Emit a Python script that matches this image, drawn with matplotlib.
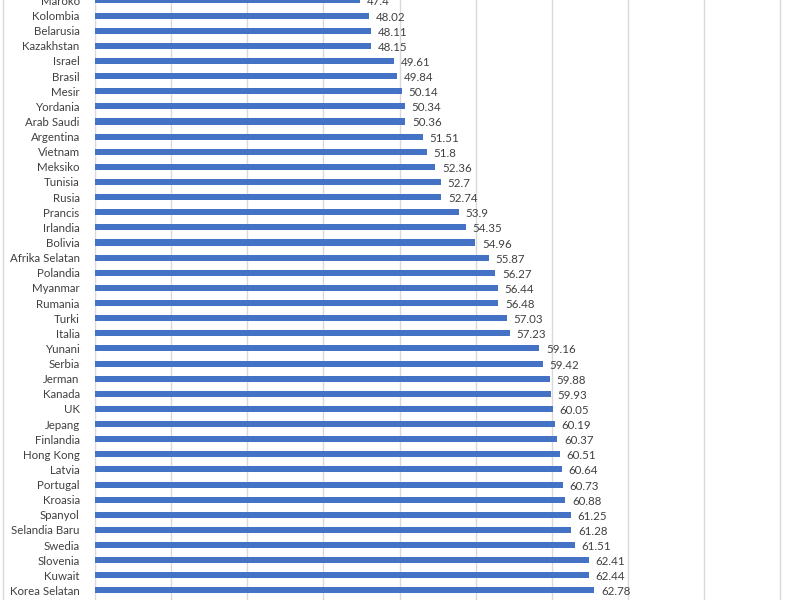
import matplotlib.pyplot as plt

countries = ['Korea Selatan', 'Kuwait', 'Slovenia', 'Swedia', 'Selandia Baru', 'Spanyol',
             'Kroasia', 'Portugal', 'Latvia', 'Hong Kong', 'Finlandia', 'Jepang', 'UK',
             'Kanada', 'Jerman', 'Serbia', 'Yunani', 'Italia', 'Turki', 'Rumania', 'Myanmar',
             'Polandia', 'Afrika Selatan', 'Bolivia', 'Irlandia', 'Prancis', 'Rusia', 'Tunisia',
             'Meksiko', 'Vietnam', 'Argentina', 'Arab Saudi', 'Yordania', 'Mesir', 'Brasil',
             'Israel', 'Kazakhstan', 'Belarusia', 'Kolombia', 'Maroko']
values = [62.78, 62.44, 62.41, 61.51, 61.28, 61.25,
          60.88, 60.73, 60.64, 60.51, 60.37, 60.19, 60.05,
          59.93, 59.88, 59.42, 59.16, 57.23, 57.03, 56.48, 56.44,
          56.27, 55.87, 54.96, 54.35, 53.9, 52.74, 52.7,
          52.36, 51.8, 51.51, 50.36, 50.34, 50.14, 49.84,
          49.61, 48.15, 48.11, 48.02, 47.4]

plt.rcParams['font.family'] = ['Lato', 'DejaVu Sans']

fig = plt.figure(figsize=(8, 6), dpi=100)
ax = fig.add_axes([95 / 800, 0, 705 / 800, 1])

y = range(len(countries))
ax.barh(y, values, left=0, height=0.4, color='#4472C4', zorder=3)
for i, v in enumerate(values):
    ax.text(v + 0.45, i - 0.1, str(v), va='center', ha='left', fontsize=8.3, color='#404040')

ax.set_xlim(30, 76.3)
ax.set_ylim(-0.63, 39.03)
ax.set_xticks(range(30, 80, 5))
ax.set_yticks(list(y))
ax.set_yticklabels(countries, fontsize=8.3, color='#404040')
ax.tick_params(axis='y', length=0, pad=11)
ax.tick_params(axis='x', length=0, labelbottom=False)
ax.grid(axis='x', color='#D9D9D9', linewidth=1, zorder=0)
for s in ['top', 'right', 'bottom']:
    ax.spines[s].set_visible(False)
ax.spines['left'].set_color('#D9D9D9')

fig.add_artist(plt.Line2D([2.5 / 800, 2.5 / 800], [0, 1], color='#D9D9D9', linewidth=1))

fig.savefig('out.png', dpi=100)
